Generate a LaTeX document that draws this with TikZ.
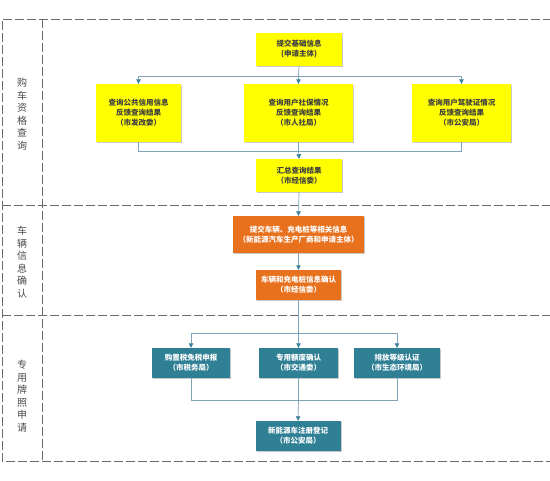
\documentclass[tikz,border=0pt]{standalone}
\usepackage{fontspec}
\setmainfont{Noto Sans CJK SC}
\newfontfamily\cjk{Noto Sans CJK SC}
\usetikzlibrary{arrows.meta,shadows}
\definecolor{ylw}{HTML}{FFFF00}
\definecolor{org}{HTML}{E8711E}
\definecolor{tea}{HTML}{2F7F95}
\definecolor{lnc}{HTML}{7FA3B8}
\definecolor{tipc}{HTML}{3A7F9A}
\definecolor{frm}{HTML}{6A6A6A}
\tikzset{
  x=1pt,y=-1pt,
  box/.style={rectangle,inner sep=0pt,align=center,font=\cjk\bfseries\fontsize{7.5}{10}\selectfont,
    drop shadow={shadow xshift=1pt,shadow yshift=-1.5pt,fill=black!35,opacity=0.6}},
  ybox/.style={box,fill=ylw,text=black!75},
  obox/.style={box,fill=org,text=white},
  tbox/.style={box,fill=tea,text=white},
  conn/.style={draw=lnc,line width=0.7pt},
  arr/.style={conn,-{Triangle[length=4.5pt,width=4.5pt,fill=tipc,color=tipc]}},
  frame/.style={draw=frm,dash pattern=on 9pt off 3pt,line width=0.6pt},
  lab/.style={align=center,font=\cjk\fontsize{10}{12.5}\selectfont,text=black!70}
}
\begin{document}
\begin{tikzpicture}
\useasboundingbox (0,0) rectangle (550,481);
\fill[white] (0,0) rectangle (550,481);
% frame
\draw[frame] (552,19) -- (2,19) -- (2,461) -- (552,461);
\draw[frame] (42,19) -- (42,461);
\draw[frame] (2,205) -- (552,205);
\draw[frame] (2,315) -- (552,315);
% labels
\node[lab] (l1) at (22,114) {购\\车\\资\\格\\查\\询};
\node[lab] (l2) at (22,262) {车\\辆\\信\\息\\确\\认};
\node[lab] (l3) at (22,396) {专\\用\\牌\\照\\申\\请};
% section 1
\node[ybox,minimum width=86,minimum height=33] (a) at (299,49.5) {提交基础信息\\(申请主体)};
\node[ybox,minimum width=85,minimum height=58] (b1) at (138.5,113) {查询公共信用信息\\反馈查询结果\\（市发改委）};
\node[ybox,minimum width=109,minimum height=58] (b2) at (298.5,113) {查询用户社保情况\\反馈查询结果\\（市人社局）};
\node[ybox,minimum width=99,minimum height=58] (b3) at (461.5,113) {查询用户驾驶证情况\\反馈查询结果\\（市公安局）};
\node[ybox,minimum width=86,minimum height=33] (c) at (299,175.5) {汇总查询结果\\（市经信委）};
\coordinate (s1) at (298.5,76);
\draw[conn] (a.south) -- (298.5,76);
\draw[arr] (s1) -| (b1.north);
\draw[arr] (s1) -| (b3.north);
\draw[arr] (s1) -- (b2.north);
\coordinate (m1) at (298.5,151);
\draw[conn] (b1.south) |- (m1);
\draw[conn] (b3.south) |- (m1);
\draw[conn] (b2.south) -- (m1);
\draw[arr] (m1) -- (c.north);
% section 2
\node[obox,minimum width=131,minimum height=37] (d) at (298.5,234.5) {提交车辆、充电桩等相关信息\\（新能源汽车生产厂商和申请主体）};
\node[obox,minimum width=85,minimum height=30] (e) at (298.5,285) {车辆和充电桩信息确认\\（市经信委）};
\draw[arr] (c.south) -- (d.north);
\draw[arr] (d.south) -- (e.north);
% section 3
\node[tbox,minimum width=78,minimum height=30] (f1) at (191,363) {购置税免税申报\\（市税务局）};
\node[tbox,minimum width=79,minimum height=30] (f2) at (298.5,363) {专用额度确认\\（市交通委）};
\node[tbox,minimum width=86,minimum height=30] (f3) at (397,363) {排放等级认证\\（市生态环境局）};
\node[tbox,minimum width=85,minimum height=30] (g) at (298,436) {新能源车注册登记\\（市公安局）};
\coordinate (s3) at (298.5,333);
\draw[conn] (e.south) -- (s3);
\draw[arr] (s3) -| (f1.north);
\draw[arr] (s3) -| (f3.north);
\draw[arr] (s3) -- (f2.north);
\coordinate (m3) at (298.5,400);
\draw[conn] (f1.south) |- (m3);
\draw[conn] (f3.south) |- (m3);
\draw[conn] (f2.south) -- (m3);
\draw[arr] (m3) -- (g.north);
\end{tikzpicture}
\end{document}
